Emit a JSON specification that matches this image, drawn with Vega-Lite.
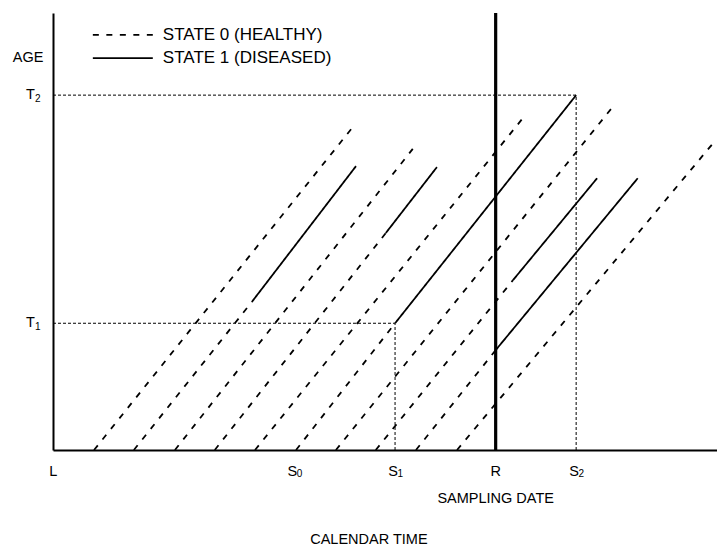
{
  "$schema": "https://vega.github.io/schema/vega-lite/v6.json",
  "width": 664,
  "height": 437,
  "autosize": {"type": "none"},
  "padding": {"left": 53, "top": 13, "right": 0, "bottom": 97},
  "background": "white",
  "config": {
    "view": {"stroke": null},
    "font": "Liberation Sans",
    "text": {"font": "Liberation Sans", "color": "black"}
  },
  "datasets": {
    "lives": [
      {"t": 1.02, "a": 0, "t2": 7.43, "a2": 6.35, "state": "STATE 0 (HEALTHY)"},
      {"t": 2.01, "a": 0, "t2": 4.94, "a2": 2.92, "state": "STATE 0 (HEALTHY)"},
      {"t": 4.94, "a": 2.92, "t2": 7.53, "a2": 5.6, "state": "STATE 1 (DISEASED)"},
      {"t": 3.03, "a": 0, "t2": 8.94, "a2": 5.94, "state": "STATE 0 (HEALTHY)"},
      {"t": 4.02, "a": 0, "t2": 8.27, "a2": 4.28, "state": "STATE 0 (HEALTHY)"},
      {"t": 8.27, "a": 4.28, "t2": 9.54, "a2": 5.58, "state": "STATE 1 (DISEASED)"},
      {"t": 5.02, "a": 0, "t2": 11.68, "a2": 6.55, "state": "STATE 0 (HEALTHY)"},
      {"t": 6.04, "a": 0, "t2": 8.5, "a2": 2.5, "state": "STATE 0 (HEALTHY)"},
      {"t": 8.5, "a": 2.5, "t2": 13, "a2": 7, "state": "STATE 1 (DISEASED)"},
      {"t": 7.03, "a": 0, "t2": 13.91, "a2": 6.77, "state": "STATE 0 (HEALTHY)"},
      {"t": 8.02, "a": 0, "t2": 11.43, "a2": 3.35, "state": "STATE 0 (HEALTHY)"},
      {"t": 11.43, "a": 3.35, "t2": 13.52, "a2": 5.36, "state": "STATE 1 (DISEASED)"},
      {"t": 9.02, "a": 0, "t2": 11, "a2": 1.97, "state": "STATE 0 (HEALTHY)"},
      {"t": 11, "a": 1.97, "t2": 14.53, "a2": 5.36, "state": "STATE 1 (DISEASED)"},
      {"t": 10.04, "a": 0, "t2": 16.37, "a2": 6.02, "state": "STATE 0 (HEALTHY)"}
    ],
    "refs": [
      {"t": 0, "a": 7, "t2": 13, "a2": 7},
      {"t": 13, "a": 0, "t2": 13, "a2": 7},
      {"t": 0, "a": 2.5, "t2": 8.5, "a2": 2.5},
      {"t": 8.5, "a": 0, "t2": 8.5, "a2": 2.5}
    ],
    "sampling": [{"t": 11, "a": 0, "t2": 11, "a2": 8.62}],
    "key": [
      {"t": 0.99, "a": 8.19, "t2": 2.48, "a2": 8.19, "state": "STATE 0 (HEALTHY)"},
      {"t": 0.99, "a": 7.73, "t2": 2.48, "a2": 7.73, "state": "STATE 1 (DISEASED)"}
    ],
    "keyText": [
      {"t": 2.73, "a": 8.19, "label": "STATE 0 (HEALTHY)"},
      {"t": 2.73, "a": 7.73, "label": "STATE 1 (DISEASED)"}
    ],
    "tickLetters": [
      {"t": 0.01, "a": -0.43, "label": "L"},
      {"t": 5.95, "a": -0.43, "label": "S"},
      {"t": 8.45, "a": -0.43, "label": "S"},
      {"t": 11.0, "a": -0.43, "label": "R"},
      {"t": 12.95, "a": -0.43, "label": "S"},
      {"t": -0.56, "a": 7.0, "label": "T"},
      {"t": -0.56, "a": 2.5, "label": "T"}
    ],
    "tickSubs": [
      {"t": 6.06, "a": -0.47, "label": "0"},
      {"t": 8.56, "a": -0.47, "label": "1"},
      {"t": 13.06, "a": -0.47, "label": "2"},
      {"t": -0.45, "a": 6.93, "label": "2"},
      {"t": -0.45, "a": 2.43, "label": "1"}
    ],
    "notes": [
      {"t": -0.62, "a": 7.73, "label": "AGE"},
      {"t": 11, "a": -0.97, "label": "SAMPLING  DATE"},
      {"t": 7.85, "a": -1.78, "label": "CALENDAR TIME"}
    ]
  },
  "encoding": {
    "x": {
      "field": "t",
      "type": "quantitative",
      "scale": {"domain": [0, 16.5], "nice": false, "zero": false},
      "axis": {
        "title": null,
        "labels": false,
        "ticks": false,
        "tickSize": 0,
        "grid": false,
        "domainColor": "black",
        "domainWidth": 2
      }
    },
    "y": {
      "field": "a",
      "type": "quantitative",
      "scale": {"domain": [0, 8.62], "nice": false, "zero": false},
      "axis": {
        "title": null,
        "labels": false,
        "ticks": false,
        "tickSize": 0,
        "grid": false,
        "domainColor": "black",
        "domainWidth": 2
      }
    }
  },
  "layer": [
    {
      "data": {"name": "refs"},
      "mark": {"type": "rule", "color": "black", "strokeWidth": 1, "strokeDash": [3, 2]},
      "encoding": {"x2": {"field": "t2"}, "y2": {"field": "a2"}}
    },
    {
      "data": {"name": "lives"},
      "mark": {"type": "rule", "color": "black", "strokeWidth": 1.8},
      "encoding": {
        "x2": {"field": "t2"},
        "y2": {"field": "a2"},
        "strokeDash": {
          "field": "state",
          "type": "nominal",
          "scale": {"domain": ["STATE 0 (HEALTHY)", "STATE 1 (DISEASED)"], "range": [[6, 7.5], [1, 0]]},
          "legend": null
        }
      }
    },
    {
      "data": {"name": "key"},
      "mark": {"type": "rule", "color": "black", "strokeWidth": 1.8},
      "encoding": {
        "x2": {"field": "t2"},
        "y2": {"field": "a2"},
        "strokeDash": {
          "field": "state",
          "type": "nominal",
          "scale": {"domain": ["STATE 0 (HEALTHY)", "STATE 1 (DISEASED)"], "range": [[6, 7.5], [1, 0]]},
          "legend": null
        }
      }
    },
    {
      "data": {"name": "sampling"},
      "mark": {"type": "rule", "color": "black", "strokeWidth": 3.2},
      "encoding": {"x2": {"field": "t2"}, "y2": {"field": "a2"}}
    },
    {
      "data": {"name": "keyText"},
      "mark": {"type": "text", "align": "left", "baseline": "middle", "fontSize": 17},
      "encoding": {"text": {"field": "label"}}
    },
    {
      "data": {"name": "tickLetters"},
      "mark": {"type": "text", "align": "center", "baseline": "middle", "fontSize": 14.5},
      "encoding": {"text": {"field": "label"}}
    },
    {
      "data": {"name": "tickSubs"},
      "mark": {"type": "text", "align": "left", "baseline": "middle", "fontSize": 10},
      "encoding": {"text": {"field": "label"}}
    },
    {
      "data": {"name": "notes"},
      "mark": {"type": "text", "align": "center", "baseline": "middle", "fontSize": 14.5},
      "encoding": {"text": {"field": "label"}}
    }
  ]
}
